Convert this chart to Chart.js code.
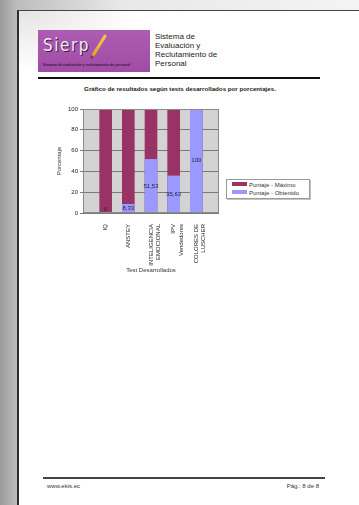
<!DOCTYPE html>
<html>
<head>
<meta charset="utf-8">
<script src="https://cdn.jsdelivr.net/npm/chart.js@4/dist/chart.umd.min.js"></script>
<style>
  html, body { margin: 0; padding: 0; }
  body {
    width: 359px; height: 505px; overflow: hidden; position: relative;
    font-family: "Liberation Sans", Arial, sans-serif;
    background: linear-gradient(90deg, #9a9a9a 0px, #bdbdbd 17px, #e8e8e8 120px, #f4f4f4 359px);
  }
  .page {
    position: absolute; left: 17px; top: 10px; width: 360px; height: 510px;
    background: radial-gradient(ellipse 120px 60px at 0 0, #e4e4e4, #ffffff);
    border-left: 2px solid #2e2e2e; border-top: 1px solid #444;
  }
  .abs { position: absolute; }
  .logo {
    left: 38px; top: 30px; width: 112px; height: 42px;
    background: linear-gradient(180deg, #ad5cb2 0%, #a04ca6 100%);
    overflow: hidden;
  }
  .sierp {
    left: 5px; top: 5px; font-family: "DejaVu Sans Condensed", "DejaVu Sans", sans-serif;
    font-size: 17px; letter-spacing: 1.5px; color: #f3e9f3;
    text-shadow: 1px 1px 0 #3b2140;
  }
  .pencil {
    left: 59px; top: 3px; width: 3px; height: 27px;
    background: linear-gradient(180deg, #f6c84a 0%, #f0a42a 85%, #3a2a20 100%);
    transform: rotate(32deg); border-radius: 1px;
  }
  .tiny {
    left: 5px; top: 33px; font-size: 3.6px; font-weight: bold; color: #3a1838; white-space: nowrap;
  }
  .head { left: 155px; top: 32px; font-size: 8px; line-height: 9px; color: #222; }
  .rule { left: 38px; top: 77px; width: 282px; height: 2px; background: #111; }
  .title { left: 80px; top: 85px; width: 200px; text-align: center; font-size: 6.2px; font-weight: bold; color: #222; white-space: nowrap; }
  .legend {
    left: 226px; top: 179px; width: 84px; height: 20px; box-sizing: border-box;
    border: 1px solid #9a9a9a; background: #fff; box-shadow: 1px 1px 0 #c4c4c4;
  }
  .legend .row { position: absolute; left: 5px; height: 7px; font-size: 6px; line-height: 7px; color: #333; white-space: nowrap; }
  .legend .sw { display: inline-block; width: 15px; height: 4px; vertical-align: 1px; margin-right: 2px; }
  .foot { left: 43px; top: 477px; width: 282px; height: 1.5px; background: #444; }
  .ftxt { top: 483px; font-size: 6px; color: #333; }
  canvas { position: absolute; left: 0; top: 0; }
</style>
</head>
<body>
<div class="page"></div>
<div class="abs logo">
  <div class="abs sierp">Sierp</div>
  <div class="abs pencil"></div>
  <div class="abs tiny">Sistema de evaluación y reclutamiento de personal</div>
</div>
<div class="abs head">Sistema de<br>Evaluación y<br>Reclutamiento de<br>Personal</div>
<div class="abs rule"></div>
<div class="abs title">Gráfico de resultados según tests desarrollados por porcentajes.</div>
<div class="abs legend" id="legend"></div>
<div class="abs foot"></div>
<div class="abs ftxt" style="left:47px">www.ekis.ec</div>
<div class="abs ftxt" style="right:40px">Pág.: 8 de 8</div>
<canvas id="chart" width="359" height="505"></canvas>
<script>
const categories = ['IQ', 'ANSTEY', ['INTELIGENCIA', 'EMOCIONAL'], ['IPV', 'Vendedores'], ['COLORES DE', 'LUSCHER']];
const maximo = [100, 100, 100, 100, 100];
const obtenido = [0, 8.33, 51.53, 35.63, 100];
const yTicks = [0, 20, 40, 60, 80, 100];
const seriesNames = ['Puntaje - Máximo', 'Puntaje - Obtenido'];
const colors = ['#993366', '#9999ff'];

// blank slots at both ends so the bars sit inside the grey area like the report
const labels = [''].concat(categories, ['']);
const pad = (arr) => [null].concat(arr, [null]);

const font = { family: '"Liberation Sans", Arial, sans-serif', size: 6 };

const plotFrame = {
  id: 'plotFrame',
  beforeDraw(chart) {
    const { ctx, chartArea: a } = chart;
    ctx.save();
    ctx.fillStyle = '#d3d3d3';
    ctx.fillRect(a.left, a.top, a.right - a.left, a.bottom - a.top);
    ctx.restore();
  },
  afterDraw(chart) {
    const { ctx, chartArea: a } = chart;
    ctx.save();
    ctx.strokeStyle = '#8a8a8a';
    ctx.lineWidth = 1;
    ctx.strokeRect(a.left + 0.5, a.top + 0.5, a.right - a.left - 1, a.bottom - a.top - 1);
    ctx.restore();
  }
};

const valueLabels = {
  id: 'valueLabels',
  afterDatasetsDraw(chart) {
    const { ctx } = chart;
    const meta = chart.getDatasetMeta(1);
    ctx.save();
    ctx.font = '6px "Liberation Sans", Arial, sans-serif';
    ctx.fillStyle = '#1e1e3c';
    ctx.textAlign = 'center';
    ctx.textBaseline = 'middle';
    meta.data.forEach((bar, i) => {
      const v = chart.data.datasets[1].data[i];
      if (v === null) return;
      const y = Math.min((bar.y + bar.base) / 2, bar.base - 3.5);
      ctx.fillText(String(v).replace('.', ','), bar.x, y);
    });
    ctx.restore();
  }
};

new Chart(document.getElementById('chart'), {
  type: 'bar',
  data: {
    labels: labels,
    datasets: [
      { label: seriesNames[0], data: pad(maximo), backgroundColor: colors[0], order: 1, barThickness: 12 },
      { label: seriesNames[1], data: pad(obtenido), backgroundColor: colors[1], order: 0, barThickness: 12 }
    ]
  },
  options: {
    responsive: false,
    animation: false,
    layout: { padding: { left: 55, top: 109, right: 140, bottom: 231 } },
    plugins: { legend: { display: false }, tooltip: { enabled: false } },
    scales: {
      x: {
        stacked: true,
        offset: false,
        grid: { display: false },
        border: { display: false },
        ticks: { font: font, color: '#222', minRotation: 90, maxRotation: 90, padding: 3, autoSkip: false },
        title: { display: true, text: 'Test Desarrollados', font: font, color: '#333', padding: 0 },
        afterFit(scale) { scale.height = 61; }
      },
      y: {
        min: 0, max: 100,
        afterBuildTicks(scale) { scale.ticks = yTicks.map(v => ({ value: v })); },
        grid: { color: '#7a7a7a', tickLength: 3, lineWidth: 1 },
        border: { display: false },
        ticks: { font: font, color: '#222', padding: 2 },
        title: { display: true, text: 'Porcentaje', font: font, color: '#333', padding: { top: 1, bottom: 0 } },
        afterFit(scale) { scale.width = 28; }
      }
    }
  },
  plugins: [plotFrame, valueLabels]
});

const legend = document.getElementById('legend');
seriesNames.forEach((name, i) => {
  const row = document.createElement('div');
  row.className = 'row';
  row.style.top = (2 + i * 8) + 'px';
  row.innerHTML = '<span class="sw" style="background:' + colors[i] + '"></span>' + name;
  legend.appendChild(row);
});
</script>
</body>
</html>
